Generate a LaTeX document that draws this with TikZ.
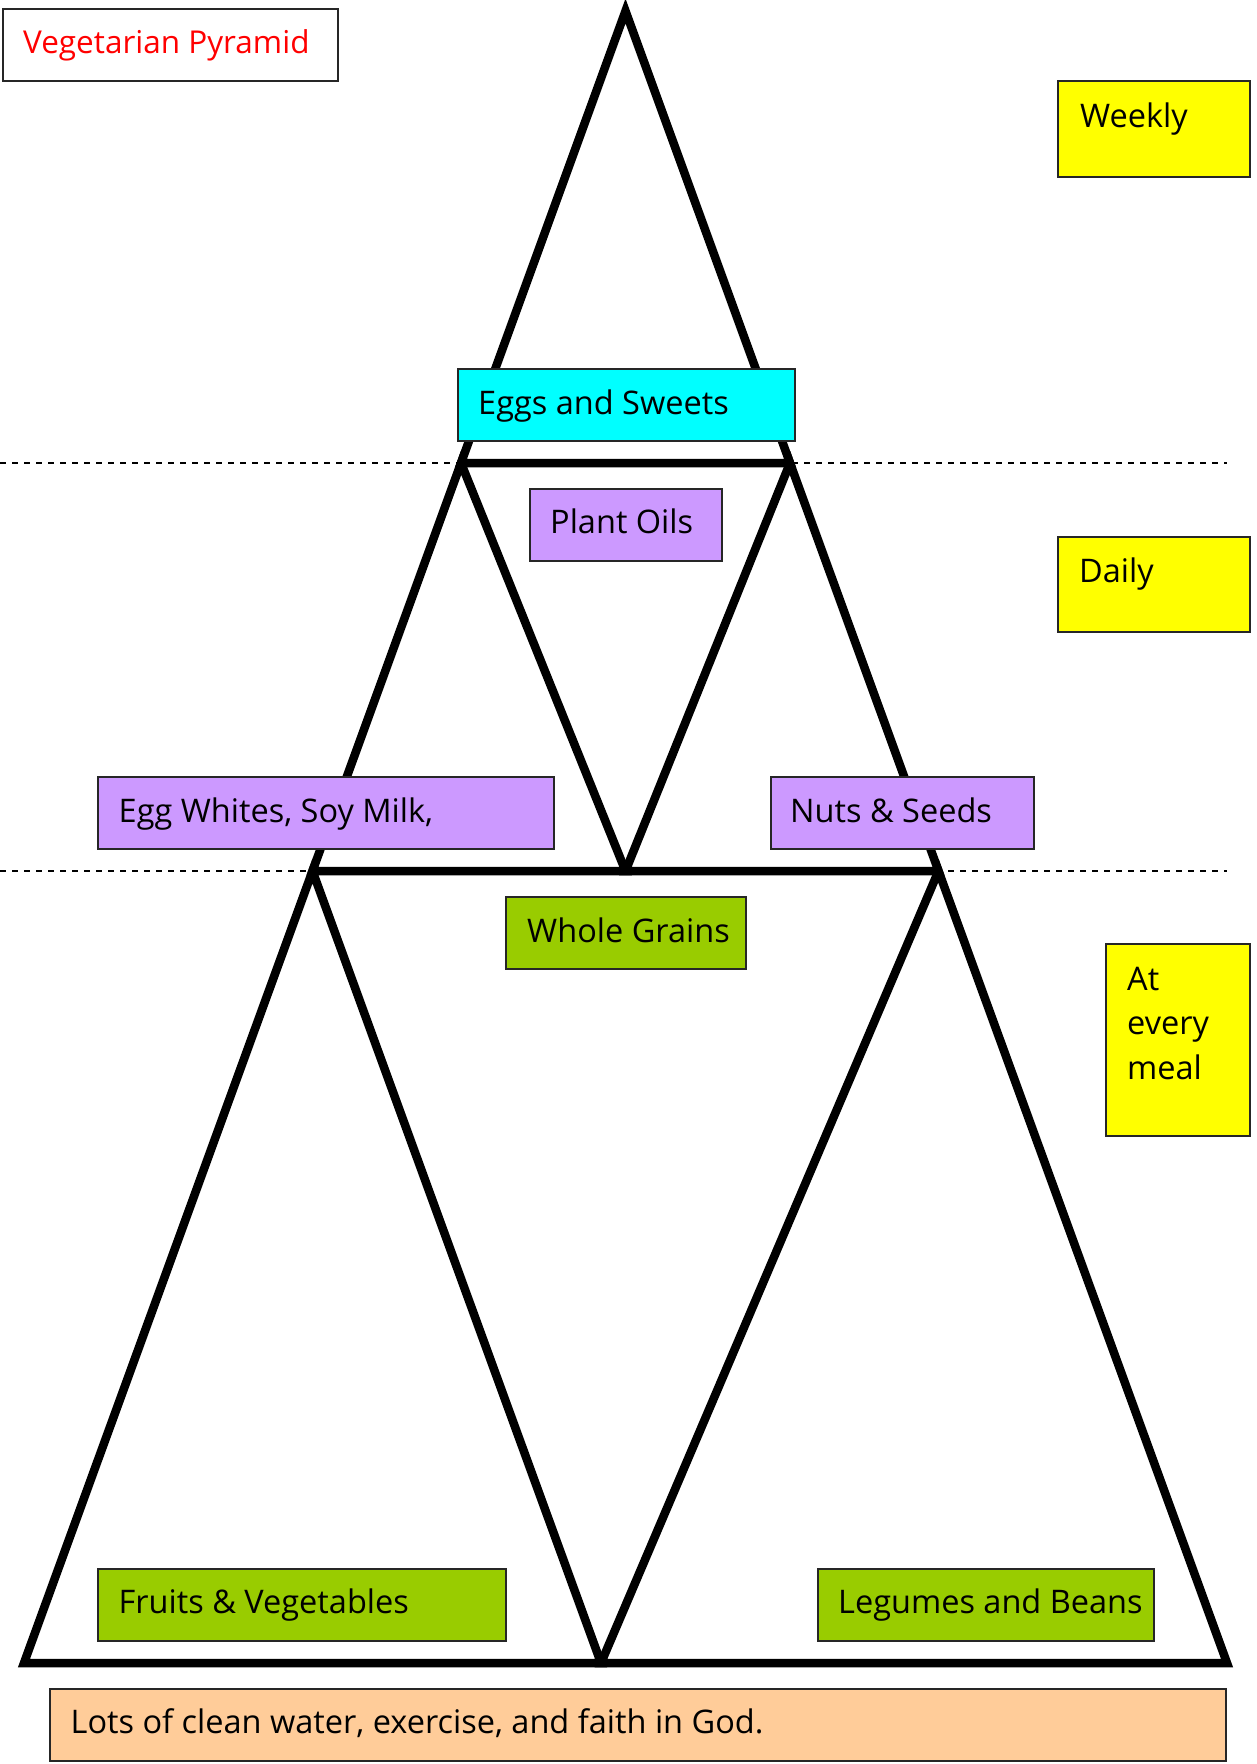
\documentclass[tikz,border=0pt]{standalone}
\usepackage{fontspec}
\setmainfont{Open Sans}
\definecolor{cyanbox}{HTML}{00FFFF}
\definecolor{purplebox}{HTML}{CC99FF}
\definecolor{greenbox}{HTML}{99CC00}
\definecolor{yellowbox}{HTML}{FFFF00}
\definecolor{peachbox}{HTML}{FFCC99}
\definecolor{redtext}{HTML}{FF0000}
\begin{document}
\begin{tikzpicture}[x=1pt,y=-1pt,
  tri/.style={line width=8.5pt, line join=miter, miter limit=10},
  guide/.style={line width=1.5pt, dash pattern=on 6pt off 6pt},
  labelbox/.style={draw=black!85, line width=1.8pt, anchor=north west, inner sep=0pt},
  txt/.style={anchor=base west, inner sep=0pt, font=\fontsize{32.5}{44.5}\selectfont}
]
\useasboundingbox (0,0) rectangle (1257,1764);
\fill[white] (0,0) rectangle (1257,1764);

% guide lines
\coordinate (g1a) at (0,463);   \coordinate (g1b) at (1227,463);
\coordinate (g2a) at (0,871);   \coordinate (g2b) at (1227,871);
\draw[guide] (g1a) -- (g1b);
\draw[guide] (g2a) -- (g2b);

% pyramid vertices
\coordinate (apex) at (625.5,11);
\coordinate (tl) at (461,463);
\coordinate (tr) at (790,463);
\coordinate (mc) at (625.5,871);
\coordinate (ml) at (312.5,871);
\coordinate (mr) at (938.5,871);
\coordinate (bl) at (24,1663);
\coordinate (bc) at (601,1663);
\coordinate (br) at (1227,1663);

\draw[tri] (apex) -- (tl) -- (tr) -- cycle;
\draw[tri] (tl) -- (ml) -- (mc) -- cycle;
\draw[tri] (tr) -- (mc) -- (mr) -- cycle;
\draw[tri] (ml) -- (bl) -- (bc) -- cycle;
\draw[tri] (mr) -- (bc) -- (br) -- cycle;

% boxes
\node[labelbox, minimum width=335pt, minimum height=72pt] (titlebox) at (2,8) {};
\node[txt, text=redtext, font=\fontsize{31.5}{40}\selectfont] (title) at (23,53) {Vegetarian Pyramid};

\node[labelbox, fill=yellowbox, minimum width=192pt, minimum height=96pt] (weeklybox) at (1057,80) {};
\node[txt] (weekly) at (1080,127) {Weekly};

\node[labelbox, fill=cyanbox, minimum width=337pt, minimum height=72pt] (eggsbox) at (457,368) {};
\node[txt] (eggs) at (478,414) {Eggs and Sweets};

\node[labelbox, fill=purplebox, minimum width=192pt, minimum height=72pt] (oilsbox) at (529,488) {};
\node[txt] (oils) at (550,533) {Plant Oils};

\node[labelbox, fill=yellowbox, minimum width=192pt, minimum height=95pt] (dailybox) at (1057,536) {};
\node[txt] (daily) at (1079,582) {Daily};

\node[labelbox, fill=purplebox, minimum width=456pt, minimum height=72pt] (whitesbox) at (97,776) {};
\node[txt] (whites) at (118.5,822) {Egg Whites, Soy Milk,};

\node[labelbox, fill=purplebox, minimum width=263pt, minimum height=72pt] (nutsbox) at (770,776) {};
\node[txt] (nuts) at (790,822) {Nuts \& Seeds};

\node[labelbox, fill=greenbox, minimum width=240pt, minimum height=72pt] (grainsbox) at (505,896) {};
\node[txt] (grains) at (527,942) {Whole Grains};

\node[labelbox, fill=yellowbox, minimum width=144pt, minimum height=192pt] (mealbox) at (1105,943) {};
\node[txt] (meal1) at (1127,990) {At};
\node[txt] (meal2) at (1127,1034) {every};
\node[txt] (meal3) at (1127,1079) {meal};

\node[labelbox, fill=greenbox, minimum width=408pt, minimum height=72pt] (fruitsbox) at (97,1568) {};
\node[txt] (fruits) at (118.5,1613) {Fruits \& Vegetables};

\node[labelbox, fill=greenbox, minimum width=336pt, minimum height=72pt] (legumesbox) at (817,1568) {};
\node[txt] (legumes) at (838,1613) {Legumes and Beans};

\node[labelbox, fill=peachbox, minimum width=1176pt, minimum height=72pt] (waterbox) at (49,1688) {};
\node[txt] (water) at (70.5,1733) {Lots of clean water, exercise, and faith in God.};
\end{tikzpicture}
\end{document}
